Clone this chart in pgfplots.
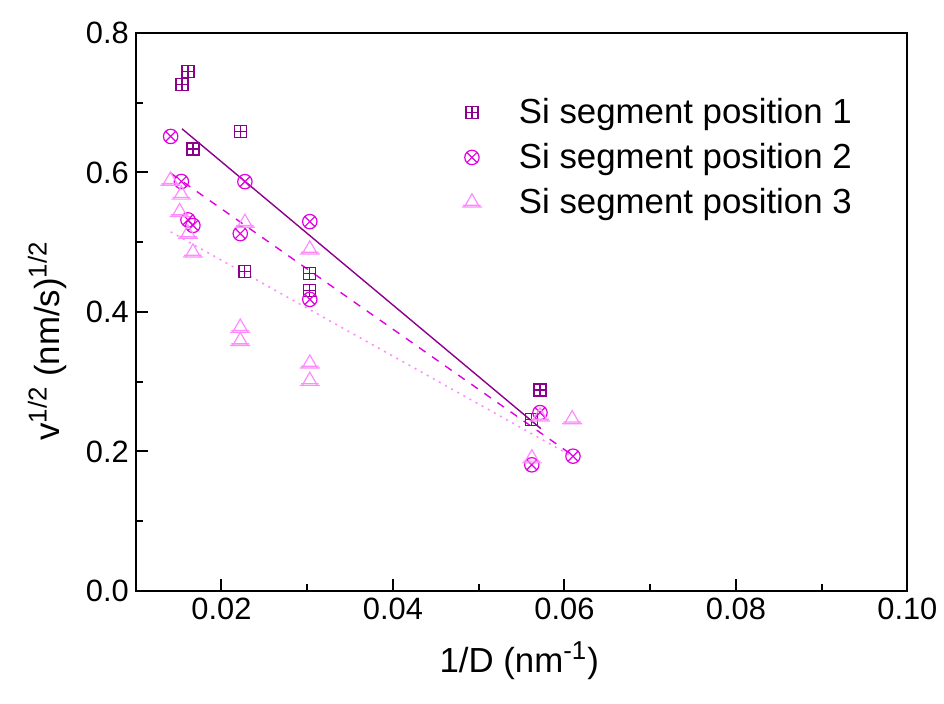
\documentclass[border=0pt]{standalone}
\usepackage{fontspec}
\setmainfont{Liberation Sans}
\usepackage{pgfplots}
\pgfplotsset{compat=1.18}
\usetikzlibrary{plotmarks}
\definecolor{cone}{RGB}{140,0,140}
\definecolor{ctwo}{RGB}{225,0,225}
\definecolor{cthree}{RGB}{255,140,255}
\pgfdeclareplotmark{boxplus}{%
  \pgfpathrectangle{\pgfqpoint{-\pgfplotmarksize}{-\pgfplotmarksize}}{\pgfqpoint{2\pgfplotmarksize}{2\pgfplotmarksize}}%
  \pgfpathmoveto{\pgfqpoint{-\pgfplotmarksize}{0pt}}\pgfpathlineto{\pgfqpoint{\pgfplotmarksize}{0pt}}%
  \pgfpathmoveto{\pgfqpoint{0pt}{-\pgfplotmarksize}}\pgfpathlineto{\pgfqpoint{0pt}{\pgfplotmarksize}}%
  \pgfusepathqstroke}
\pgfdeclareplotmark{tribar}{%
  \pgfpathmoveto{\pgfqpoint{0pt}{\pgfplotmarksize}}%
  \pgfpathlineto{\pgfqpointpolar{-150}{\pgfplotmarksize}}%
  \pgfpathlineto{\pgfqpointpolar{-30}{\pgfplotmarksize}}%
  \pgfpathclose
  \pgfpathmoveto{\pgfqpoint{-1.15\pgfplotmarksize}{-0.5\pgfplotmarksize}}%
  \pgfpathlineto{\pgfqpoint{1.15\pgfplotmarksize}{-0.5\pgfplotmarksize}}%
  \pgfpathmoveto{\pgfqpoint{-1.0\pgfplotmarksize}{-0.3\pgfplotmarksize}}%
  \pgfpathlineto{\pgfqpoint{1.0\pgfplotmarksize}{-0.3\pgfplotmarksize}}%
  \pgfusepathqstroke}
\begin{document}
\begin{tikzpicture}
\begin{axis}[
  scale only axis,
  width=386.5bp, height=279.5bp,
  xmin=0.01, xmax=0.10, ymin=0, ymax=0.8,
  xtick={0.02,0.04,0.06,0.08,0.10},
  minor xtick={0.03,0.05,0.07,0.09},
  ytick={0,0.2,0.4,0.6,0.8},
  minor ytick={0.1,0.3,0.5,0.7},
  scaled x ticks=false, scaled y ticks=false,
  tick align=inside,
  xtick pos=left, ytick pos=left,
  major tick length=6bp, minor tick length=3.5bp,
  axis line style={line width=1bp},
  every tick/.style={black, line width=1bp},
  /pgf/number format/assume math mode=true,
  ticklabel style={font=\fontsize{15.5}{18}\selectfont},
  xticklabel style={/pgf/number format/.cd, fixed, fixed zerofill, precision=2},
  yticklabel style={/pgf/number format/.cd, fixed, fixed zerofill, precision=1},
  xlabel={1/D (nm\textsuperscript{\fontsize{13}{15}\selectfont -1})},
  ylabel={v\textsuperscript{\fontsize{13}{15}\selectfont 1/2} (nm/s)\textsuperscript{\fontsize{13}{15}\selectfont 1/2}},
  label style={font=\fontsize{17.5}{21}\selectfont},
  xlabel style={at={(axis description cs:0.497,-0.125)}, anchor=center},
  ylabel style={at={(axis description cs:-0.115,0.448)}, anchor=center, rotate=0},
  legend style={at={(axis description cs:0.390,0.898)}, anchor=north west, draw=none, fill=none,
    font=\fontsize{17.5}{21}\selectfont, row sep=4.5bp},
  legend cell align=left,
  legend image code/.code={\path (0cm,0cm) (1.25cm,0cm); \draw[#1] plot coordinates {(0.5cm,0cm)};},
]
\addplot[only marks, mark=boxplus, mark size=3bp, draw=cone, line width=0.6bp] coordinates {
(0.01609,0.745) (0.01539,0.7265) (0.01667,0.6335) (0.02219,0.6588) (0.02273,0.4575)
(0.03030,0.4547) (0.03030,0.431) (0.05715,0.288) (0.05614,0.246)
};
\addlegendentry{Si segment position 1}
\addplot[only marks, mark=otimes, mark size=3.6bp, draw=ctwo, line width=0.6bp] coordinates {
(0.01407,0.6516) (0.01532,0.587) (0.01609,0.532) (0.01667,0.524) (0.02273,0.5868)
(0.02219,0.5123) (0.0303,0.5295) (0.0303,0.418) (0.05715,0.2557) (0.0610,0.1932) (0.05619,0.1808)
};
\addlegendentry{Si segment position 2}
\addplot[only marks, mark=tribar, mark size=4.4bp, draw=cthree, line width=0.6bp] coordinates {
(0.01404,0.588) (0.01532,0.568) (0.01512,0.543) (0.01609,0.512) (0.01667,0.485)
(0.02273,0.5276) (0.0303,0.4894) (0.02219,0.3773) (0.02219,0.3582) (0.0303,0.3258)
(0.0303,0.301) (0.0609,0.246) (0.0562,0.1899) (0.05715,0.250)
};
\addlegendentry{Si segment position 3}
\addplot[cone, line width=0.7bp, forget plot] coordinates {(0.01539,0.6626) (0.05724,0.2328)};
\addplot[ctwo, line width=0.7bp, dash pattern=on 4bp off 4bp, forget plot] coordinates {(0.01407,0.599) (0.0610,0.194)};
\addplot[cthree, line width=0.8bp, dash pattern=on 1bp off 2.5bp, forget plot] coordinates {(0.01407,0.5148) (0.0609,0.193)};
\end{axis}
\path (current axis.south west) ++(-68bp,-56.5bp) coordinate (bbA);
\path (current axis.north east) ++(17.5bp,16.5bp) coordinate (bbB);
\useasboundingbox (bbA) rectangle (bbB);
\end{tikzpicture}
\end{document}
